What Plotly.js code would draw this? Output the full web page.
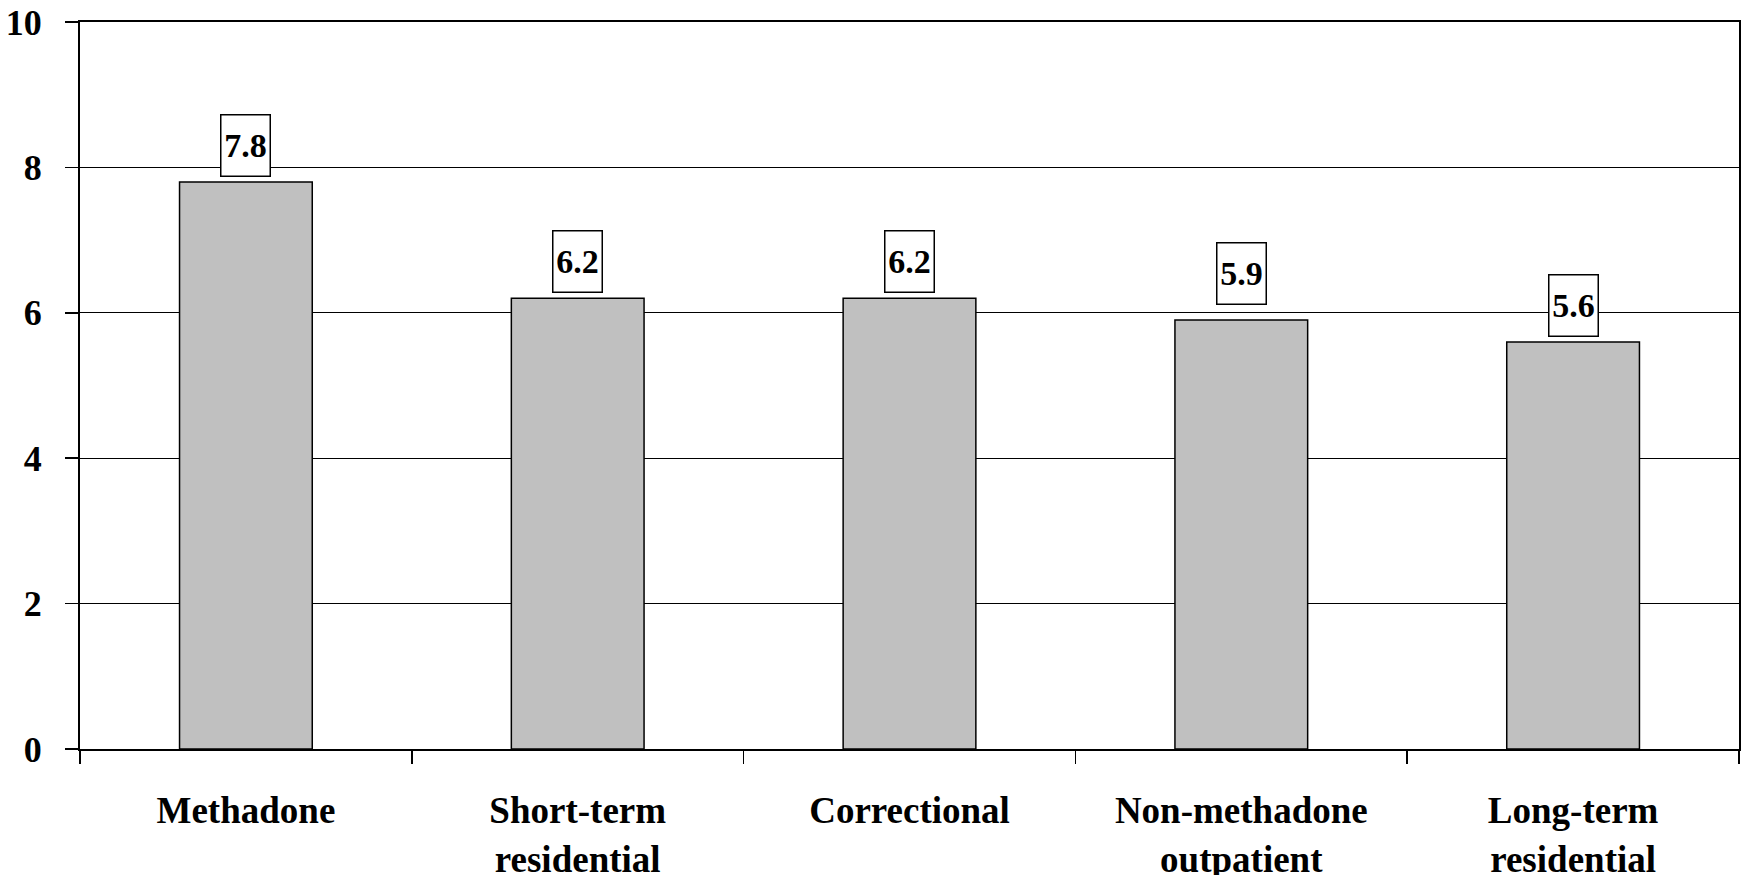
<!DOCTYPE html>
<html>
<head>
<meta charset="utf-8">
<script src="https://cdn.plot.ly/plotly-3.0.1.min.js"></script>
<style>
html, body { margin: 0; padding: 0; background: #ffffff; }
#chart { width: 1749px; height: 875px; }
</style>
</head>
<body>
<div id="chart"></div>
<script>
const categories = ["Methadone", "Short-term<br>residential", "Correctional", "Non-methadone<br>outpatient", "Long-term<br>residential"];
const values = [7.8, 6.2, 6.2, 5.9, 5.6];
const valueLabels = ["7.8", "6.2", "6.2", "5.9", "5.6"];
const yTickValues = [0, 2, 4, 6, 8, 10];

// label box gap above each bar (pixels, styling only)
const labelGaps = [5, 5, 5, 15, 5];

const font = "'Liberation Serif', 'Times New Roman', serif";

const trace = {
  type: "bar",
  x: categories,
  y: values,
  width: 0.4,
  marker: { color: "#c0c0c0", line: { color: "#000000", width: 1.5 } },
  hoverinfo: "skip"
};

const annotations = categories.map((c, i) => ({
  x: c,
  y: values[i],
  xref: "x",
  yref: "y",
  text: "<b>" + valueLabels[i] + "</b>",
  showarrow: false,
  yanchor: "bottom",
  yshift: labelGaps[i],
  width: 44,
  height: 56,
  borderpad: 2,
  bgcolor: "#ffffff",
  bordercolor: "#000000",
  borderwidth: 1.5,
  font: { family: font, size: 34, color: "#000000" }
}));

const layout = {
  width: 1749,
  height: 875,
  margin: { l: 80, r: 10, t: 22, b: 126 },
  paper_bgcolor: "#ffffff",
  plot_bgcolor: "#ffffff",
  showlegend: false,
  bargap: 0.6,
  xaxis: {
    type: "category",
    showline: true,
    linecolor: "#000000",
    linewidth: 2,
    mirror: true,
    ticks: "outside",
    tickson: "boundaries",
    ticklen: 13,
    tickwidth: 1.5,
    tickcolor: "#000000",
    showgrid: false,
    ticklabelstandoff: 28,
    tickfont: { family: font, size: 37, color: "#000000", weight: "bold" }
  },
  yaxis: {
    range: [0, 10],
    tickvals: yTickValues,
    ticktext: yTickValues.map(v => "<b>" + v + "</b>"),
    showline: true,
    linecolor: "#000000",
    linewidth: 2,
    mirror: true,
    ticks: "outside",
    ticklen: 13,
    tickwidth: 1.5,
    tickcolor: "#000000",
    showgrid: true,
    gridcolor: "#000000",
    gridwidth: 1.2,
    zeroline: false,
    ticklabelstandoff: 16,
    tickfont: { family: font, size: 36, color: "#000000" }
  },
  annotations: annotations
};

Plotly.newPlot("chart", [trace], layout, { displayModeBar: false, staticPlot: true });
</script>
</body>
</html>
